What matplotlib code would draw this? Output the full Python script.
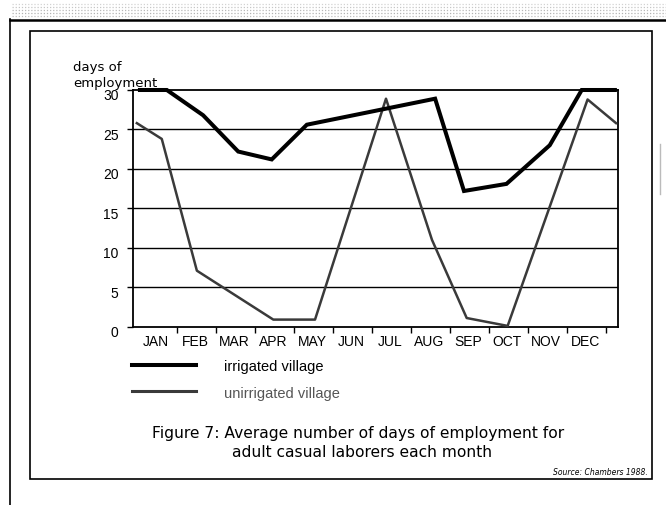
import matplotlib
matplotlib.use("Agg")
import matplotlib.pyplot as plt
from matplotlib.lines import Line2D
from matplotlib.patches import Rectangle
import matplotlib.transforms as mtransforms
import numpy as np

# ---------------- data ----------------
months = ["JAN", "FEB", "MAR", "APR", "MAY", "JUN",
          "JUL", "AUG", "SEP", "OCT", "NOV", "DEC"]
# positions in month units (1 = JAN/FEB boundary, ...)
irrigated_pos = [0.05, 0.74, 1.67, 2.57, 3.43, 4.33, 7.62, 8.36, 9.45, 10.56, 11.38, 12.23]
irrigated_days = [30, 30, 26.8, 22.2, 21.2, 25.6, 28.9, 17.2, 18.1, 23.0, 30, 30]
unirrigated_pos = [-0.03, 0.61, 1.51, 3.47, 4.54, 6.36, 7.54, 8.43, 9.48, 11.53, 12.26]
unirrigated_days = [25.8, 23.8, 7.1, 0.9, 0.9, 28.9, 11.0, 1.1, 0.1, 28.8, 25.8]
y_ticks = [0, 5, 10, 15, 20, 25, 30]
series_labels = ["irrigated village", "unirrigated village"]
caption_lines = ["Figure 7: Average number of days of employment for",
                 "adult casual laborers each month"]
source = "Source: Chambers 1988."
ylabel = "days of\nemployment"

W, H = 666, 506
fig = plt.figure(figsize=(W / 100, H / 100), dpi=100)
fig.patch.set_facecolor("white")


def fx(px):
    return px / W


def fy(py):
    return 1 - py / H


# axes box in pixels: left 133, right 618, top 91, bottom 327.7
ax = fig.add_axes([fx(133), fy(327.7), fx(618) - fx(133), fy(91) - fy(327.7)])
ax.set_xlim(-0.128, 12.31)
ax.set_ylim(0, 30)

for s in ax.spines.values():
    s.set_linewidth(1.3)
    s.set_color("black")

ax.set_yticks(y_ticks)
ax.set_yticklabels([str(v) for v in y_ticks], fontsize=10, family="Liberation Sans")
ax.tick_params(axis="y", direction="out", length=4.5, width=1.0, pad=6)
shift = mtransforms.ScaledTranslation(0, -4 / 100, fig.dpi_scale_trans)
for lab in ax.get_yticklabels():
    lab.set_transform(lab.get_transform() + shift)
for v in y_ticks[1:-1]:
    ax.axhline(v, color="black", lw=1.0, zorder=1)

ax.set_xticks(np.arange(1, 13))
ax.set_xticklabels([])
ax.tick_params(axis="x", which="major", direction="out", length=4, width=1.0)
ax.set_xticks(np.arange(12) + 0.47, minor=True)
ax.set_xticklabels(months, minor=True, fontsize=10, family="Liberation Sans")
ax.tick_params(axis="x", which="minor", length=0, pad=5)

l1, = ax.plot(irrigated_pos, irrigated_days, color="black", lw=2.9,
              solid_joinstyle="miter", clip_on=False, zorder=4)
l2, = ax.plot(unirrigated_pos, unirrigated_days, color="#3a3a3a", lw=1.8,
              clip_on=False, zorder=3)

# y label (two lines)
fig.text(fx(73), fy(87.5), ylabel, fontsize=9.5, family="DejaVu Sans",
         ha="left", va="baseline", linespacing=1.35)

# legend
leg = fig.legend([l1, l2], series_labels, loc="upper left",
                 bbox_to_anchor=(fx(119), fy(347)), frameon=False,
                 handlelength=4.4, handletextpad=1.88, labelspacing=0.85,
                 prop={"family": "Liberation Sans", "size": 10.5})
leg.get_texts()[1].set_color("#555555")
leg.get_lines()[1].set_linewidth(2.2)

# caption
fig.text(fx(358.5), fy(438), caption_lines[0], fontsize=11.2, family="DejaVu Sans",
         ha="center", va="baseline")
fig.text(fx(362), fy(457), caption_lines[1], fontsize=11.2, family="DejaVu Sans",
         ha="center", va="baseline")
fig.text(fx(648), fy(475), source, fontsize=5.5, family="DejaVu Sans",
         style="italic", ha="right", va="baseline")

# frames
fig.add_artist(Rectangle((fx(30), fy(480)), fx(652) - fx(30), fy(32) - fy(480),
                         transform=fig.transFigure, fill=False, lw=1.2,
                         edgecolor="black"))
fig.add_artist(Line2D([fx(10), fx(666)], [fy(20.5), fy(20.5)],
                      transform=fig.transFigure, color="black", lw=1.8))
fig.add_artist(Line2D([fx(10.5), fx(10.5)], [fy(20), fy(506)],
                      transform=fig.transFigure, color="black", lw=1.2))
# scan texture band at the top
for yy, a in [(5, 0.35), (8, 0.45), (11, 0.55), (14, 0.6), (17, 0.5)]:
    fig.add_artist(Line2D([fx(12), fx(666)], [fy(yy), fy(yy)],
                          transform=fig.transFigure, color="gray", lw=0.9,
                          alpha=a, linestyle=(0, (1, 1.5))))
fig.add_artist(Line2D([fx(660), fx(660)], [fy(145), fy(195)],
                      transform=fig.transFigure, color="#bbbbbb", lw=1.0))

fig.savefig("out.png", dpi=100)
